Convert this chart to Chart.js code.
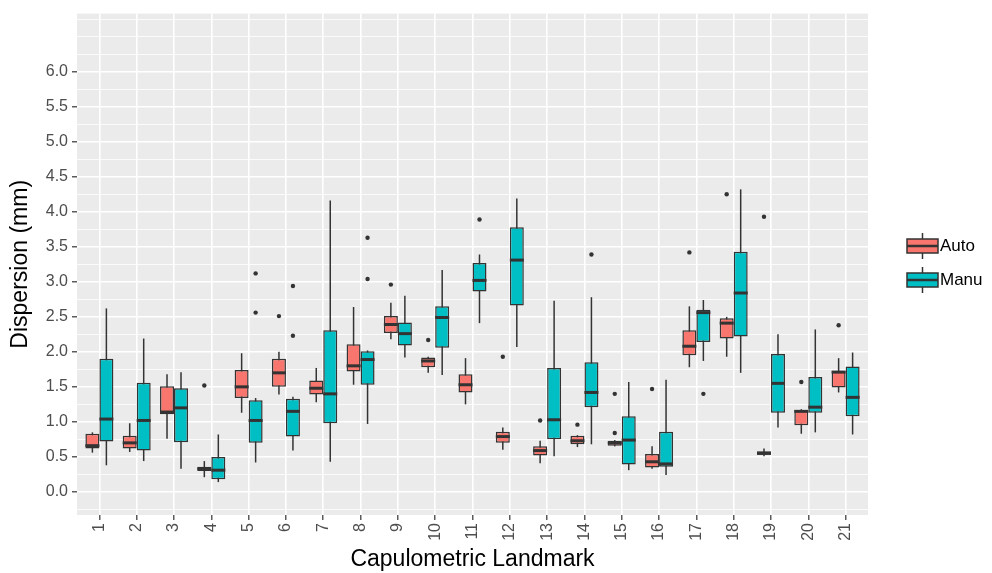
<!DOCTYPE html>
<html>
<head>
<meta charset="utf-8">
<script src="https://cdn.jsdelivr.net/npm/chart.js@4.4.1/dist/chart.umd.min.js"></script>
<style>
  body { margin: 0; background: #ffffff; }
  canvas { display: block; }
</style>
</head>
<body>
<canvas id="chart" width="992" height="573"></canvas>
<script>
const landmarks = ['1', '2', '3', '4', '5', '6', '7', '8', '9', '10', '11', '12', '13', '14', '15', '16', '17', '18', '19', '20', '21'];
const groups = ['Auto', 'Manu'];
const yTicks = [0, 0.5, 1, 1.5, 2, 2.5, 3, 3.5, 4, 4.5, 5, 5.5, 6];

// Auto
const autoLow  = [0.56, 0.57, 0.76, 0.21, 1.13, 1.39, 1.28, 1.53, 2.18, 1.70, 1.25, 0.60, 0.41, 0.64, 0.65, 0.33, 1.78, 1.93, 0.51, 0.83, 1.42];
const autoQ1   = [0.62, 0.62, 1.11, 0.30, 1.34, 1.50, 1.39, 1.72, 2.27, 1.78, 1.42, 0.70, 0.52, 0.68, 0.66, 0.35, 1.95, 2.19, 0.53, 0.95, 1.49];
const autoMed  = [0.66, 0.70, 1.14, 0.33, 1.50, 1.70, 1.48, 1.80, 2.39, 1.87, 1.53, 0.79, 0.59, 0.73, 0.70, 0.43, 2.08, 2.41, 0.55, 1.15, 1.71];
const autoQ3   = [0.83, 0.80, 1.51, 0.36, 1.74, 1.90, 1.59, 2.11, 2.51, 1.92, 1.68, 0.86, 0.65, 0.80, 0.73, 0.54, 2.31, 2.48, 0.58, 1.17, 1.73];
const autoHigh = [0.85, 0.98, 1.68, 0.44, 1.98, 2.00, 1.77, 2.64, 2.70, 1.93, 1.91, 0.92, 0.73, 0.81, 0.74, 0.65, 2.65, 2.50, 0.62, 1.18, 1.91];
const autoOut  = [[], [], [], [1.52], [], [2.51], [], [], [2.96], [2.17], [], [1.93], [1.02], [0.96], [1.40, 0.84], [1.47], [3.42], [4.25], [3.93], [1.57], [2.38]];

// Manu
const manuLow  = [0.38, 0.44, 0.33, 0.14, 0.42, 0.59, 0.43, 0.97, 1.92, 1.67, 2.41, 2.07, 0.51, 0.68, 0.31, 0.24, 1.87, 1.70, 0.92, 0.85, 0.82];
const manuQ1   = [0.72, 0.59, 0.71, 0.18, 0.70, 0.79, 0.98, 1.53, 2.09, 2.06, 2.86, 2.66, 0.75, 1.21, 0.39, 0.36, 2.14, 2.22, 1.13, 1.13, 1.08];
const manuMed  = [1.04, 1.02, 1.20, 0.31, 1.02, 1.15, 1.40, 1.89, 2.26, 2.49, 3.02, 3.31, 1.03, 1.42, 0.74, 0.40, 2.56, 2.84, 1.55, 1.21, 1.35];
const manuQ3   = [1.90, 1.56, 1.48, 0.50, 1.31, 1.33, 2.31, 2.01, 2.42, 2.65, 3.27, 3.78, 1.77, 1.85, 1.08, 0.86, 2.60, 3.43, 1.97, 1.64, 1.79];
const manuHigh = [2.62, 2.19, 1.71, 0.82, 1.34, 1.36, 4.16, 2.02, 2.80, 3.17, 3.39, 4.19, 2.73, 2.78, 1.57, 1.60, 2.74, 4.32, 2.25, 2.32, 1.99];
const manuOut  = [[], [], [], [], [3.12, 2.56], [2.94, 2.23], [], [3.63, 3.04], [], [], [3.89], [], [], [3.39], [], [], [1.40], [], [], [], []];

const fills = ['#F8766D', '#00BFC4'];
const lineCol = '#333333';
const stats = [
    { low: autoLow, med: autoMed, high: autoHigh, out: autoOut },
    { low: manuLow, med: manuMed, high: manuHigh, out: manuOut }
];

// y grid: majors at the labelled ticks, minors halfway and past the ends
const yGrid = [];
for (let v = -0.25; v <= 6.76; v += 0.25) yGrid.push(Math.round(v * 100) / 100);
function isMajor(v) {
    return yTicks.indexOf(v) >= 0;
}

Chart.defaults.font.family = '"Liberation Sans", Arial, Helvetica, sans-serif';

const boxPlugin = {
    id: 'boxes',
    beforeDraw(chart) {
        const a = chart.chartArea;
        const ctx = chart.ctx;
        ctx.save();
        ctx.fillStyle = '#EBEBEB';
        ctx.fillRect(a.left, a.top, a.right - a.left, a.bottom - a.top);
        ctx.restore();
    },
    beforeDatasetsDraw(chart) {
        const ctx = chart.ctx;
        const y = chart.scales.y;
        ctx.save();
        ctx.strokeStyle = lineCol;
        ctx.lineWidth = 1.5;
        stats.forEach((s, d) => {
            chart.getDatasetMeta(d).data.forEach((el, i) => {
                ctx.beginPath();
                ctx.moveTo(el.x, y.getPixelForValue(s.low[i]));
                ctx.lineTo(el.x, y.getPixelForValue(s.high[i]));
                ctx.stroke();
            });
        });
        ctx.restore();
    },
    afterDatasetsDraw(chart) {
        const ctx = chart.ctx;
        const y = chart.scales.y;
        ctx.save();
        stats.forEach((s, d) => {
            chart.getDatasetMeta(d).data.forEach((el, i) => {
                const py = y.getPixelForValue(s.med[i]);
                ctx.strokeStyle = lineCol;
                ctx.lineWidth = 3;
                ctx.beginPath();
                ctx.moveTo(el.x - el.width / 2, py);
                ctx.lineTo(el.x + el.width / 2, py);
                ctx.stroke();
                ctx.fillStyle = lineCol;
                s.out[i].forEach(v => {
                    ctx.beginPath();
                    ctx.arc(el.x, y.getPixelForValue(v), 2.2, 0, Math.PI * 2);
                    ctx.fill();
                });
            });
        });
        ctx.restore();
    },
    afterDraw(chart) {
        // boxplot-style legend keys
        const ctx = chart.ctx;
        ctx.save();
        groups.forEach((g, k) => {
            const cy = 246 + k * 34;
            const x0 = 907, x1 = 938, cx = (x0 + x1) / 2;
            ctx.strokeStyle = lineCol;
            ctx.lineWidth = 1.5;
            ctx.beginPath();
            ctx.moveTo(cx, cy - 13);
            ctx.lineTo(cx, cy + 13);
            ctx.stroke();
            ctx.fillStyle = fills[k];
            ctx.fillRect(x0, cy - 7, x1 - x0, 14);
            ctx.strokeRect(x0, cy - 7, x1 - x0, 14);
            ctx.lineWidth = 2.5;
            ctx.beginPath();
            ctx.moveTo(x0, cy);
            ctx.lineTo(x1, cy);
            ctx.stroke();
            ctx.fillStyle = '#000000';
            ctx.font = '17px "Liberation Sans", Arial, sans-serif';
            ctx.textBaseline = 'middle';
            ctx.textAlign = 'left';
            ctx.fillText(g, 940, cy);
        });
        ctx.restore();
    }
};

function boxData(q1, q3) {
    return landmarks.map((l, i) => ({ x: i + 1, y: [q1[i], q3[i]] }));
}

new Chart(document.getElementById('chart'), {
    type: 'bar',
    data: {
        datasets: [
            {
                label: groups[0],
                data: boxData(autoQ1, autoQ3),
                backgroundColor: fills[0],
                borderColor: lineCol,
                borderWidth: 1.5,
                borderSkipped: false,
                categoryPercentage: 0.75,
                barPercentage: 1
            },
            {
                label: groups[1],
                data: boxData(manuQ1, manuQ3),
                backgroundColor: fills[1],
                borderColor: lineCol,
                borderWidth: 1.5,
                borderSkipped: false,
                categoryPercentage: 0.75,
                barPercentage: 1
            }
        ]
    },
    options: {
        responsive: false,
        animation: false,
        layout: { padding: { left: 0, right: 124, top: 8, bottom: 0 } },
        plugins: {
            legend: { display: false },
            tooltip: { enabled: false }
        },
        scales: {
            x: {
                type: 'linear',
                min: 0.4,
                max: 21.6,
                offset: false,
                afterBuildTicks(scale) {
                    scale.ticks = landmarks.map((l, i) => ({ value: i + 1 }));
                },
                afterFit(scale) {
                    scale.height = 58;
                },
                ticks: {
                    autoSkip: false,
                    maxRotation: 90,
                    minRotation: 90,
                    padding: 3,
                    color: '#4D4D4D',
                    font: { size: 16 },
                    callback: (v) => landmarks[Math.round(v) - 1]
                },
                grid: {
                    offset: false,
                    color: '#ffffff',
                    lineWidth: 1.6,
                    tickColor: lineCol,
                    tickWidth: 1.2,
                    tickLength: 5
                },
                border: { display: false },
                title: {
                    display: true,
                    text: 'Capulometric Landmark',
                    color: '#000000',
                    font: { size: 23 },
                    padding: { top: 0, bottom: 0 }
                }
            },
            y: {
                min: -0.33,
                max: 6.83,
                afterBuildTicks(scale) {
                    scale.ticks = yGrid.map(v => ({ value: v }));
                },
                afterFit(scale) {
                    scale.width = 77;
                },
                ticks: {
                    autoSkip: false,
                    padding: 4,
                    color: '#4D4D4D',
                    font: { size: 16 },
                    callback: (v) => isMajor(v) ? v.toFixed(1) : ''
                },
                grid: {
                    color: '#ffffff',
                    lineWidth: (c) => isMajor(c.tick.value) ? 1.6 : 0.8,
                    tickColor: (c) => isMajor(c.tick.value) ? lineCol : 'rgba(0,0,0,0)',
                    tickWidth: 1.2,
                    tickLength: 5
                },
                border: { display: false },
                title: {
                    display: true,
                    text: 'Dispersion (mm)',
                    color: '#000000',
                    font: { size: 23 },
                    padding: { top: 7, bottom: 0 }
                }
            }
        }
    },
    plugins: [boxPlugin]
});
</script>
</body>
</html>
